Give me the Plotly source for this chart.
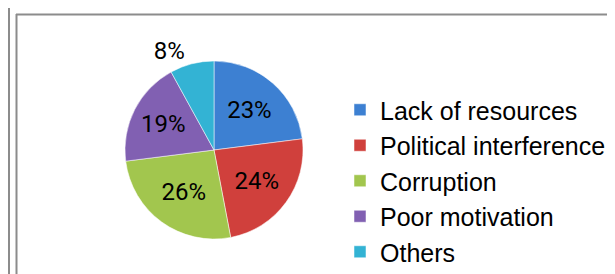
import plotly.graph_objects as go

labels = ["Lack of resources", "Political interference", "Corruption", "Poor motivation", "Others"]
values = [23, 24, 26, 19, 8]
colors = ["#3D80D2", "#D0403C", "#A2C64E", "#8160B2", "#33B3D4"]
text_positions = ["inside", "inside", "inside", "inside", "outside"]

W, H = 615, 274
cx, cy, r = 206, 142, 89

fig = go.Figure(go.Pie(
    labels=labels,
    values=values,
    sort=False,
    direction="clockwise",
    rotation=0,
    textinfo="percent",
    texttemplate="%{percent:.0%}",
    textposition=text_positions,
    insidetextorientation="horizontal",
    textfont=dict(family="Roboto, Liberation Sans, Arial", size=24, color="black"),
    marker=dict(colors=colors, line=dict(color="rgba(255,255,255,0.5)", width=1)),
    domain=dict(x=[(cx - r) / W, (cx + r) / W], y=[1 - (cy + r) / H, 1 - (cy - r) / H]),
    showlegend=True,
))

frame = "#8C8C8C"
fig.add_shape(type="line", xref="paper", yref="paper", x0=1 / W, x1=1 / W, y0=0, y1=1,
              line=dict(color=frame, width=2))
fig.add_shape(type="line", xref="paper", yref="paper", x0=8.5 / W, x1=8.5 / W, y0=0, y1=1 - 6 / H,
              line=dict(color=frame, width=2))
fig.add_shape(type="line", xref="paper", yref="paper", x0=8 / W, x1=1, y0=1 - 6.5 / H, y1=1 - 6.5 / H,
              line=dict(color=frame, width=2))

fig.update_layout(
    width=W, height=H,
    margin=dict(l=0, r=0, t=0, b=0),
    paper_bgcolor="white",
    plot_bgcolor="white",
    legend=dict(
        x=332 / W, xanchor="left",
        y=1 - 79 / H, yanchor="top",
        font=dict(family="Liberation Sans, Arial", size=25, color="black"),
        bgcolor="rgba(0,0,0,0)",
        itemwidth=30,
        tracegroupgap=0,
    ),
)

fig.write_html("out.html")
